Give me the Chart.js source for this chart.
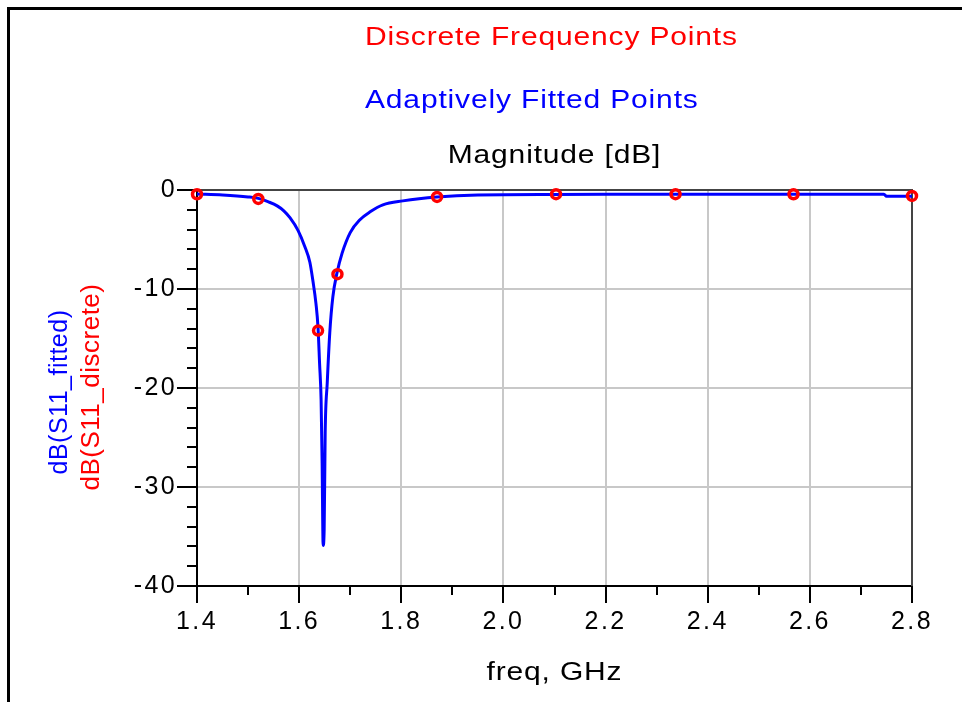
<!DOCTYPE html>
<html>
<head>
<meta charset="utf-8">
<script src="https://cdn.jsdelivr.net/npm/chart.js@4.4.0/dist/chart.umd.min.js"></script>
<style>
  html, body { margin: 0; padding: 0; background: #fff; }
  #wrap { width: 962px; height: 702px; }
</style>
</head>
<body>
<div id="wrap"><canvas id="chart" width="962" height="702"></canvas></div>
<script>
// discrete solver frequencies (GHz) and dB(S11)
const discreteFreq = [1.40, 1.52, 1.637, 1.675, 1.87, 2.103, 2.337, 2.568, 2.80];
const discreteDb = [-0.43, -0.9, -14.2, -8.5, -0.7, -0.42, -0.42, -0.43, -0.6];

// adaptively fitted curve
const fittedFreq = [1.400, 1.450, 1.500, 1.520, 1.540, 1.557, 1.570, 1.582, 1.598, 1.611,
  1.621, 1.627, 1.633, 1.637, 1.640, 1.643, 1.645, 1.647, 1.649, 1.651,
  1.655, 1.660, 1.666, 1.674, 1.684, 1.700, 1.719, 1.739, 1.764, 1.803,
  1.870, 1.950, 2.100, 2.300, 2.500, 2.745, 2.750, 2.800];
const fittedDb = [-0.40, -0.50, -0.70, -0.85, -1.2, -1.6, -2.1, -2.8, -4.1, -5.7,
  -7.3, -9.2, -11.5, -13.9, -17.5, -21.2, -27.6, -35.9, -34.3, -24.5,
  -19.5, -14.4, -10.8, -8.4, -6.4, -4.3, -3.0, -2.2, -1.5, -1.1,
  -0.7, -0.5, -0.45, -0.44, -0.44, -0.44, -0.64, -0.64];

const xTicks = [1.4, 1.6, 1.8, 2.0, 2.2, 2.4, 2.6, 2.8];
const xMinorTicks = [1.5, 1.7, 1.9, 2.1, 2.3, 2.5, 2.7];
const yTicks = [0, -10, -20, -30, -40];
const yMinorTicks = [-2, -4, -6, -8, -12, -14, -16, -18, -22, -24, -26, -28, -32, -34, -36, -38];

const FONT = '"Liberation Sans", Arial, sans-serif';
const RED = '#ff0000';
const BLUE = '#0000ff';

// the original screenshot is stretched sideways, so horizontal text is widened
function drawText(ctx, text, x, y, color, size, spacing, align, stretch) {
  ctx.save();
  ctx.translate(x, y);
  ctx.scale(stretch, 1);
  ctx.font = size + 'px ' + FONT;
  ctx.letterSpacing = spacing + 'px';
  ctx.fillStyle = color;
  ctx.textAlign = align;
  ctx.textBaseline = 'alphabetic';
  ctx.fillText(text, 0, 0);
  ctx.restore();
}

const decor = {
  id: 'decor',
  beforeLayout(chart) { chart.ctx.letterSpacing = '2.4px'; },
  beforeDraw(chart) { chart.ctx.letterSpacing = '2.4px'; },
  beforeDatasetsDraw(chart) {
    const { ctx, chartArea: a, scales: { x, y } } = chart;
    ctx.save();
    ctx.lineWidth = 2;
    ctx.strokeStyle = '#444';
    ctx.beginPath();
    ctx.moveTo(a.left, a.top);
    ctx.lineTo(a.right, a.top);
    ctx.lineTo(a.right, a.bottom);
    ctx.stroke();

    // minor ticks
    ctx.strokeStyle = '#000';
    ctx.beginPath();
    xMinorTicks.forEach(v => {
      const px = Math.round(x.getPixelForValue(v));
      ctx.moveTo(px, a.bottom);
      ctx.lineTo(px, a.bottom + 9);
    });
    yMinorTicks.forEach(v => {
      const py = Math.round(y.getPixelForValue(v));
      ctx.moveTo(a.left, py);
      ctx.lineTo(a.left - 10, py);
    });
    ctx.stroke();

    // outer frame (top and left only)
    ctx.fillStyle = '#000';
    ctx.fillRect(7, 7, chart.width - 7, 3);
    ctx.fillRect(7, 7, 3, chart.height - 7);
    ctx.restore();
  },
  afterDraw(chart) {
    const { ctx, chartArea: a } = chart;
    const cx = (a.left + a.right) / 2;
    const cy = (a.top + a.bottom) / 2;
    ctx.save();
    drawText(ctx, 'Discrete Frequency Points', 365, 45, RED, 25, 0.7, 'left', 1.2);
    drawText(ctx, 'Adaptively Fitted Points', 365, 108, BLUE, 25, 0.7, 'left', 1.2);
    drawText(ctx, 'Magnitude [dB]', cx, 163, '#000', 25, 0.7, 'center', 1.2);
    drawText(ctx, 'freq, GHz', cx, 680, '#000', 25, 0.7, 'center', 1.2);

    ctx.save();
    ctx.translate(67, cy + 4);
    ctx.rotate(-Math.PI / 2);
    drawText(ctx, 'dB(S11_fitted)', 0, 0, BLUE, 25, 0.5, 'center', 1);
    ctx.restore();
    ctx.save();
    ctx.translate(99, cy - 1);
    ctx.rotate(-Math.PI / 2);
    drawText(ctx, 'dB(S11_discrete)', 0, 0, RED, 26, 0.5, 'center', 1);
    ctx.restore();
    ctx.restore();
  }
};

new Chart(document.getElementById('chart'), {
  type: 'line',
  data: {
    datasets: [
      {
        label: 'dB(S11_discrete)',
        data: discreteFreq.map((f, i) => ({ x: f, y: discreteDb[i] })),
        showLine: false,
        borderColor: RED,
        backgroundColor: 'rgba(0,0,0,0)',
        pointStyle: 'circle',
        pointRadius: 4.5,
        pointBorderWidth: 3.5,
        pointBorderColor: RED,
        pointBackgroundColor: 'rgba(0,0,0,0)',
        clip: false
      },
      {
        label: 'dB(S11_fitted)',
        data: fittedFreq.map((f, i) => ({ x: f, y: fittedDb[i] })),
        borderColor: BLUE,
        borderWidth: 3,
        pointRadius: 0,
        cubicInterpolationMode: 'monotone',
        fill: false
      }
    ]
  },
  options: {
    responsive: false,
    animation: false,
    devicePixelRatio: 1,
    layout: { padding: { left: 0, top: 190, right: 50, bottom: 0 } },
    plugins: {
      legend: { display: false },
      tooltip: { enabled: false },
      title: { display: false }
    },
    scales: {
      x: {
        type: 'linear',
        min: 1.4,
        max: 2.8,
        afterBuildTicks: s => { s.ticks = xTicks.map(v => ({ value: v })); },
        afterFit: s => { s.height = 116; },
        ticks: {
          color: '#000',
          font: { family: FONT, size: 25 },
          padding: 4,
          maxRotation: 0,
          autoSkip: false,
          callback: v => v.toFixed(1)
        },
        grid: { color: '#c8c8c8', lineWidth: 2, tickColor: '#000', tickLength: 17, tickWidth: 2 },
        border: { color: '#000', width: 2 }
      },
      y: {
        type: 'linear',
        min: -40,
        max: 0,
        afterBuildTicks: s => { s.ticks = yTicks.map(v => ({ value: v })); },
        afterFit: s => { s.width = 197; },
        ticks: {
          color: '#000',
          font: { family: FONT, size: 25 },
          padding: 0,
          autoSkip: false,
          callback: v => String(v)
        },
        grid: { color: '#c8c8c8', lineWidth: 2, tickColor: '#000', tickLength: 20, tickWidth: 2 },
        border: { color: '#000', width: 2 }
      }
    }
  },
  plugins: [decor]
});
</script>
</body>
</html>
